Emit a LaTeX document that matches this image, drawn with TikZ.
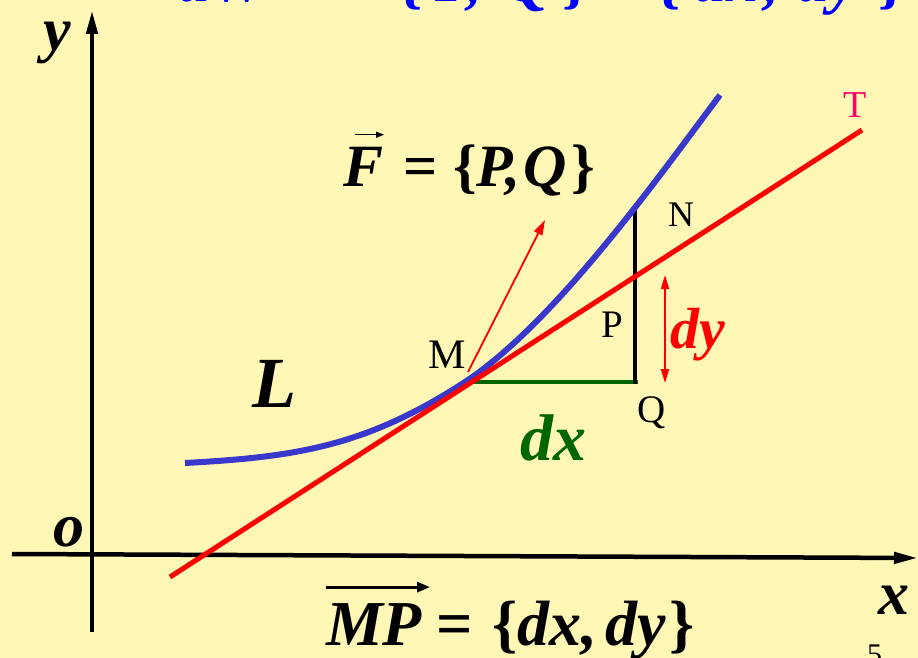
\documentclass[tikz,border=0pt]{standalone}
\usepackage{fontspec}
\setmainfont{Liberation Serif}
\usetikzlibrary{arrows.meta}
\definecolor{bg}{RGB}{255,247,181}
\definecolor{curveblue}{RGB}{56,56,204}
\definecolor{dgreen}{RGB}{0,102,0}
\definecolor{tpink}{RGB}{255,0,102}
\newcommand{\fsz}[1]{\fontsize{#1}{#1}\selectfont}
\newcommand{\bitx}{\bfseries\itshape}
\begin{document}
\begin{tikzpicture}[x=1pt,y=-1pt,
  lbl/.style={inner sep=0pt, outer sep=0pt, anchor=base west},
  axisline/.style={line width=4.5pt, -{Triangle[length=24pt,width=11pt]}},
  thinred/.style={red, line width=1.8pt},
  vecarrow/.style={line width=1.3pt, -{Triangle[length=8pt,width=6pt]}}]
\fill[bg] (0,0) rectangle (918,658);
\useasboundingbox (0,0) rectangle (918,658);

% top (cut) formula
\node[lbl, blue] (t1) at (178,2) {\fsz{64}\bitx dW};
\node[lbl, blue] (t2) at (300,2) {\fsz{64}\bfseries =};
\node[lbl, blue] (t3) at (397,2) {\fsz{64}\bfseries \{\hspace{13pt}\itshape P,\hspace{22pt}Q\hspace{12pt}\upshape\}};
\node[lbl, blue] (t4) at (616,2) {\fsz{64}\bfseries ·};
\node[lbl, blue] (t5) at (655,2) {\fsz{64}\bfseries \{\hspace{14pt}\itshape dx\hspace{5pt},\hspace{18pt}dy\hspace{21pt}\upshape\}};

% axes
\coordinate (xs) at (12,554);
\coordinate (xe) at (918,558);
\coordinate (ys) at (92,632);
\coordinate (ye) at (92,10);
\draw[axisline] (xs) -- (xe);
\draw[axisline] (ys) -- (ye);

% key points
\coordinate (M) at (465,382);
\coordinate (Qp) at (635,382);
\coordinate (N) at (635,207);
\coordinate (C0) at (185,463);
\coordinate (C1) at (720,95);
\coordinate (T0) at (170,577);
\coordinate (T1) at (862,130);

% dx segment and NQ segment
\draw[dgreen, line width=4pt] ([xshift=-3pt]M) -- ([xshift=3pt]Qp);
\draw[black, line width=3.5pt] (N) -- ([yshift=-2pt]Qp);

% curve L
\draw[curveblue, line width=6pt] (C0) .. controls (295,457) and (365,447) .. (M)
   .. controls (555,323) and (660,175) .. (C1);
% tangent MT
\draw[red, line width=5pt] (T0) -- (T1);

% force vector
\coordinate (F0) at (468,372);
\coordinate (F1) at (545,220);
\draw[thinred, -{Triangle[length=15pt,width=9pt]}] (F0) -- (F1);

% dy double arrow
\coordinate (dy0) at (665,275);
\coordinate (dy1) at (665,383);
\draw[thinred, {Triangle[length=14pt,width=8pt]}-{Triangle[length=14pt,width=8pt]}] (dy0) -- (dy1);

% point labels
\node[lbl] (Mlbl) at (428,368) {\fsz{42}M};
\node[lbl] (Nlbl) at (668,226) {\fsz{36}N};
\node[lbl] (Plbl) at (601,337) {\fsz{39}P};
\node[lbl] (Qlbl) at (637,422) {\fsz{39}Q};
\node[lbl, tpink] (Tlbl) at (843,118) {\fsz{38}T};

% big labels
\node[lbl] (ylbl) at (43,51) {\fsz{62}\bitx y};
\node[lbl] (olbl) at (53,546) {\fsz{62}\bitx o};
\node[lbl] (xlbl) at (878,614) {\fsz{62}\bitx x};
\node[lbl] (Llbl) at (252,407) {\fsz{72}\bitx L};
\node[lbl, dgreen] (dxlbl) at (520,460) {\fsz{66}\bitx dx};
\node[lbl, red] (dylbl) at (670,348) {\fsz{58}\bitx dy};

% F = {P,Q}
\node[lbl] (Fv) at (343,186) {\fsz{60}\bitx F};
\node[lbl] (Feq) at (403,186) {\fsz{60}\bfseries =\hspace{16pt}\{\itshape P,\hspace{3pt}Q\hspace{4pt}\upshape\}};
\draw[vecarrow] ([xshift=12pt,yshift=12pt]Fv.north west) -- ([xshift=1pt,yshift=12pt]Fv.north east);

% MP = {dx,dy}
\node[lbl] (MPv) at (326,645) {\fsz{64}\bitx MP};
\node[lbl] (MPeq) at (436,645) {\fsz{64}\bfseries =\hspace{20pt}\{\itshape dx,\hspace{8pt}dy\hspace{3pt}\upshape\}};
\draw[line width=3pt, -{Triangle[length=13pt,width=10pt]}] ([yshift=16pt]MPv.north west) -- ([xshift=8pt,yshift=16pt]MPv.north east);

% page number
\node[lbl] (pg) at (867,664) {\fsz{30}5};
\end{tikzpicture}
\end{document}
